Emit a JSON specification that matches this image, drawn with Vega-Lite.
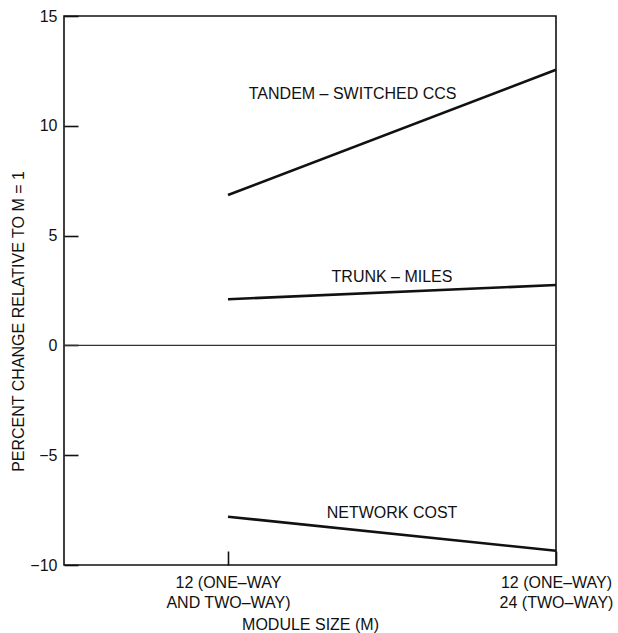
{
  "$schema": "https://vega.github.io/schema/vega-lite/v6.json",
  "width": 492,
  "height": 549,
  "autosize": "none",
  "padding": {"left": 64, "top": 16, "right": 62, "bottom": 68},
  "background": "white",
  "config": {
    "view": {"stroke": "#111111", "strokeWidth": 1.6},
    "font": "Liberation Sans",
    "axis": {
      "domain": false,
      "grid": false,
      "tickColor": "#111111",
      "tickWidth": 1.6,
      "tickSize": -14,
      "labelFontSize": 16,
      "labelColor": "#111111",
      "labelFlush": false,
      "labelOverlap": false,
      "labelBound": false,
      "titleFontSize": 16,
      "titleFontWeight": "normal",
      "titleColor": "#111111"
    }
  },
  "datasets": {
    "lines": [
      {"series": "TANDEM – SWITCHED CCS", "m": 1, "pct": 6.85},
      {"series": "TANDEM – SWITCHED CCS", "m": 3, "pct": 12.55},
      {"series": "TRUNK – MILES", "m": 1, "pct": 2.1},
      {"series": "TRUNK – MILES", "m": 3, "pct": 2.75},
      {"series": "NETWORK COST", "m": 1, "pct": -7.8},
      {"series": "NETWORK COST", "m": 3, "pct": -9.35}
    ],
    "labels": [
      {"series": "TANDEM – SWITCHED CCS", "m": 1.76, "pct": 11.45},
      {"series": "TRUNK – MILES", "m": 2.0, "pct": 3.11},
      {"series": "NETWORK COST", "m": 2.0, "pct": -7.63}
    ]
  },
  "layer": [
    {
      "data": {"values": [{}]},
      "mark": {"type": "rule", "color": "#333333", "strokeWidth": 1.4},
      "encoding": {"y": {"datum": 0, "type": "quantitative"}}
    },
    {
      "data": {"name": "lines"},
      "mark": {"type": "line", "color": "#111111", "strokeWidth": 2.6},
      "encoding": {
        "x": {
          "field": "m",
          "type": "quantitative",
          "scale": {"domain": [0, 3], "nice": false, "zero": false},
          "axis": {
            "values": [1, 3],
            "labelExpr": "datum.value == 1 ? ['12 (ONE–WAY', 'AND TWO–WAY)'] : ['12 (ONE–WAY)', '24 (TWO–WAY)']",
            "labelLineHeight": 20,
            "labelPadding": 23,
            "labelBaseline": "top",
            "title": "MODULE SIZE (M)",
            "titleY": 59,
            "titleBaseline": "middle"
          }
        },
        "y": {
          "field": "pct",
          "type": "quantitative",
          "scale": {"domain": [-10, 15], "nice": false, "zero": false},
          "axis": {
            "values": [-10, -5, 0, 5, 10, 15],
            "labelPadding": 21,
            "title": "PERCENT CHANGE RELATIVE TO M = 1",
            "titleX": -46,
            "titleY": 305,
            "titleAngle": -90,
            "titleAlign": "center",
            "titleBaseline": "middle"
          }
        },
        "detail": {"field": "series"}
      }
    },
    {
      "data": {"name": "labels"},
      "mark": {"type": "text", "fontSize": 16, "color": "#111111", "baseline": "middle", "align": "center"},
      "encoding": {
        "x": {"field": "m", "type": "quantitative"},
        "y": {"field": "pct", "type": "quantitative"},
        "text": {"field": "series"}
      }
    }
  ]
}
